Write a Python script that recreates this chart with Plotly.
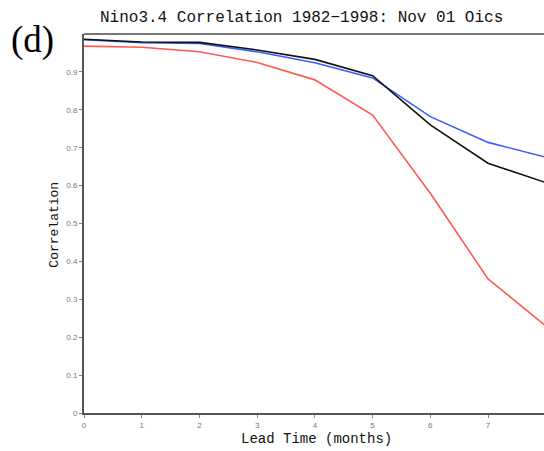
import plotly.graph_objects as go

# Lead times (months) and correlation skill for each forecast set
lead_months = [0, 1, 2, 3, 4, 5, 6, 7, 8]
corr_black = [0.986, 0.979, 0.978, 0.958, 0.933, 0.890, 0.760, 0.659, 0.608]
corr_blue = [0.985, 0.977, 0.975, 0.953, 0.924, 0.884, 0.782, 0.714, 0.675]
corr_red = [0.968, 0.965, 0.953, 0.925, 0.879, 0.786, 0.580, 0.354, 0.230]

y_ticks = [0, 0.1, 0.2, 0.3, 0.4, 0.5, 0.6, 0.7, 0.8, 0.9]
y_tick_text = ["0", "0.1", "0.2", "0.3", "0.4", "0.5", "0.6", "0.7", "0.8", "0.9"]
x_ticks = [0, 1, 2, 3, 4, 5, 6, 7]

title_text = "Nino3.4 Correlation 1982\u22121998: Nov 01 Oics"
panel_label = "(d)"
x_title = "Lead Time (months)"
y_title = "Correlation"

fig = go.Figure()
for ys, col in [(corr_red, "#ff5a50"), (corr_blue, "#3c5cff"), (corr_black, "#111111")]:
    fig.add_trace(go.Scatter(x=lead_months, y=ys, mode="lines",
                             line=dict(color=col, width=1.6), showlegend=False,
                             hoverinfo="skip"))

mono = "Liberation Mono, Courier New, monospace"
fig.update_layout(
    width=544, height=451,
    margin=dict(l=84, r=0, t=34, b=38),
    paper_bgcolor="white", plot_bgcolor="white",
    xaxis=dict(range=[0, 7.97], tickvals=x_ticks, ticks="outside", ticklen=3,
               tickcolor="#888", tickfont=dict(size=8, color="#777", family="Liberation Sans"),
               showgrid=False, zeroline=False, showline=True, linecolor="#555",
               linewidth=2),
    yaxis=dict(range=[0, 1.0], tickvals=y_ticks, ticktext=y_tick_text, ticks="outside",
               ticklen=3, tickcolor="#888",
               tickfont=dict(size=8, color="#777", family="Liberation Sans"),
               showgrid=False, zeroline=False, showline=True, linecolor="#555",
               linewidth=2),
    shapes=[dict(type="line", xref="paper", yref="paper", x0=0, x1=1, y0=1, y1=1,
                 line=dict(color="#777", width=2))],
    annotations=[
        dict(text=title_text, xref="paper", yref="paper", x=0.4736, y=1.042,
             showarrow=False, xanchor="center", yanchor="middle",
             font=dict(family=mono, size=16, color="#111")),
        dict(text=panel_label, xref="paper", yref="paper", x=-0.112, y=0.984,
             showarrow=False, xanchor="center", yanchor="middle",
             font=dict(family="Liberation Serif", size=37, color="#000")),
        dict(text=x_title, xref="paper", yref="paper", x=0.505, y=-0.069,
             showarrow=False, xanchor="center", yanchor="middle",
             font=dict(family=mono, size=14, color="#111")),
        dict(text=y_title, xref="paper", yref="paper", x=-0.063, y=0.497,
             showarrow=False, xanchor="center", yanchor="middle", textangle=-90,
             font=dict(family=mono, size=13, color="#111")),
    ],
)

fig.write_html("out.html")
